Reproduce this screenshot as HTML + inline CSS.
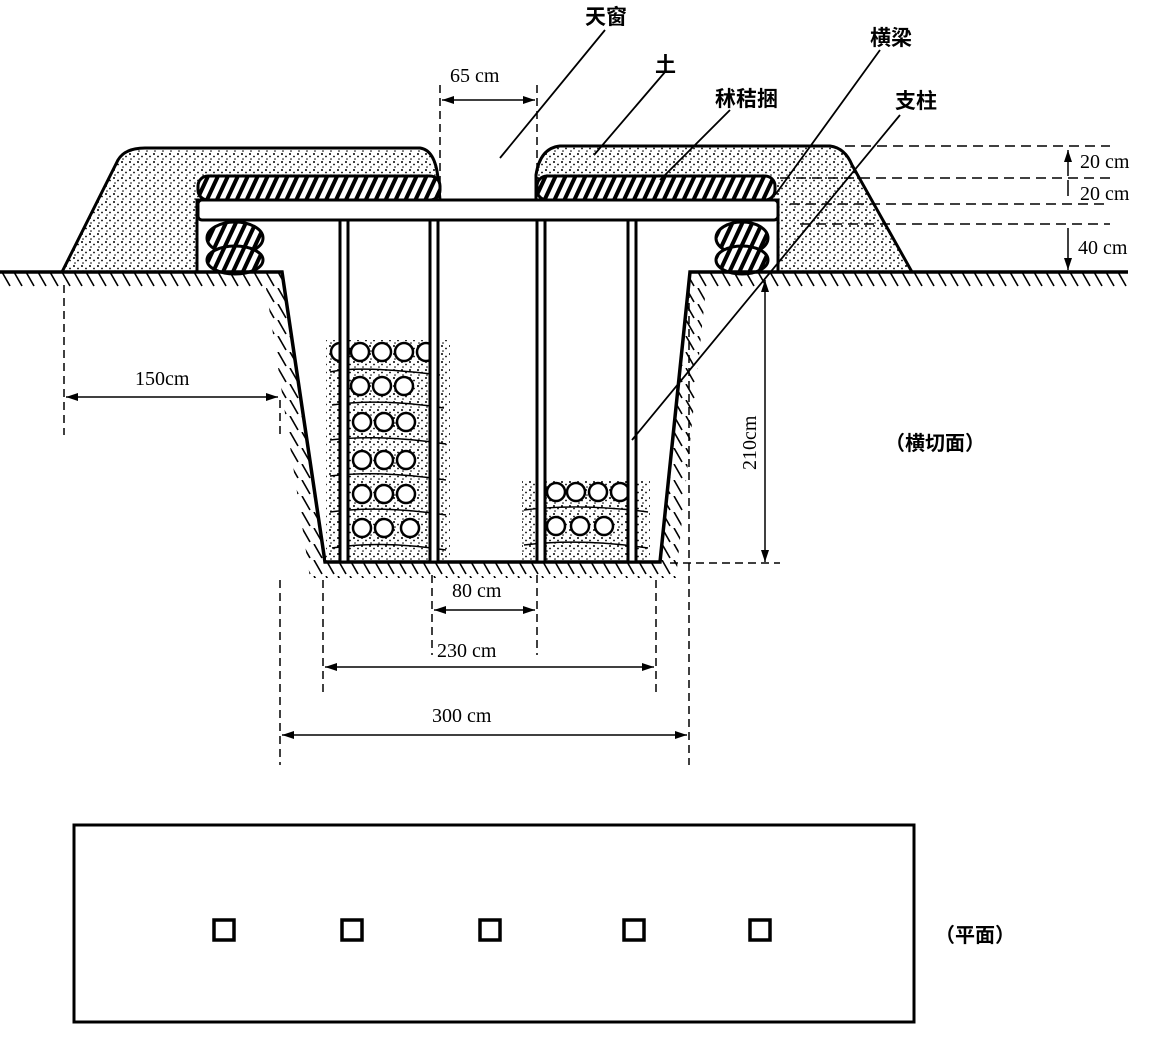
<!DOCTYPE html>
<html><head><meta charset="utf-8"><style>
html,body{margin:0;padding:0;background:#fff;}
svg{display:block}
text{font-family:"Liberation Serif","Noto Serif CJK SC",serif;fill:#000;}
.cj{font-family:"Liberation Sans","Noto Sans CJK SC",sans-serif;font-weight:bold;}
</style></head><body>
<svg width="1154" height="1040" viewBox="0 0 1154 1040" xmlns="http://www.w3.org/2000/svg">
<defs>
<pattern id="dots" width="8" height="8" patternUnits="userSpaceOnUse">
<rect width="8" height="8" fill="#fff"/>
<circle cx="2" cy="2" r="1" fill="#000"/><circle cx="6" cy="4.5" r="0.9" fill="#000"/><circle cx="3" cy="7" r="0.8" fill="#000"/>
</pattern>
<pattern id="hatch" width="9" height="9" patternUnits="userSpaceOnUse" patternTransform="rotate(25)">
<rect width="9" height="9" fill="#fff"/><rect x="0" width="4" height="9" fill="#000"/>
</pattern>
<pattern id="ground" width="12" height="16" patternUnits="userSpaceOnUse">
<path d="M2 0 L10 14" stroke="#000" stroke-width="1.6"/>
</pattern>
<marker id="ar" viewBox="0 0 12 8" refX="12" refY="4" markerWidth="12" markerHeight="8" orient="auto-start-reverse" markerUnits="userSpaceOnUse">
<path d="M0 0 L12 4 L0 8 Z" fill="#000"/></marker>
</defs>

<!-- mounds -->
<path d="M62 272 L118 160 Q125 148 145 148 L420 148 Q435 150 438 178 L440 200 L197 200 L197 272 Z" fill="url(#dots)" stroke="#000" stroke-width="3"/>
<path d="M536 200 L536 175 Q540 148 560 146 L830 146 Q845 148 852 165 L912 272 L778 272 L778 200 Z" fill="url(#dots)" stroke="#000" stroke-width="3"/>
<rect x="198" y="176" width="242" height="24" rx="10" fill="url(#hatch)" stroke="#000" stroke-width="3"/>
<rect x="537" y="176" width="238" height="24" rx="10" fill="url(#hatch)" stroke="#000" stroke-width="3"/>
<rect x="198" y="200" width="580" height="20" rx="4" fill="#fff" stroke="#000" stroke-width="3"/>
<ellipse cx="235" cy="238" rx="28" ry="16" fill="url(#hatch)" stroke="#000" stroke-width="3"/>
<ellipse cx="235" cy="260" rx="28" ry="14" fill="url(#hatch)" stroke="#000" stroke-width="3"/>
<ellipse cx="742" cy="238" rx="26" ry="16" fill="url(#hatch)" stroke="#000" stroke-width="3"/>
<ellipse cx="742" cy="260" rx="26" ry="14" fill="url(#hatch)" stroke="#000" stroke-width="3"/>

<!-- ground hatching -->
<path d="M0 272 L282 272 L325 562 L660 562 L690 272 L1128 272 L1128 288 L706 288 L676 578 L310 578 L266 288 L0 288 Z" fill="url(#ground)"/>
<path d="M0 272 L282 272 L325 562 L660 562 L690 272 L1128 272" fill="none" stroke="#000" stroke-width="3.5"/>

<!-- wood piles -->
<rect x="326" y="340" width="124" height="220" fill="url(#dots)"/>
<rect x="522" y="480" width="128" height="80" fill="url(#dots)"/>
<g fill="#fff" stroke="#000" stroke-width="2.5">
<circle cx="340" cy="352" r="9"/><circle cx="360" cy="352" r="9"/><circle cx="382" cy="352" r="9"/><circle cx="404" cy="352" r="9"/><circle cx="426" cy="352" r="9"/>
<circle cx="360" cy="386" r="9"/><circle cx="382" cy="386" r="9"/><circle cx="404" cy="386" r="9"/>
<circle cx="362" cy="422" r="9"/><circle cx="384" cy="422" r="9"/><circle cx="406" cy="422" r="9"/>
<circle cx="362" cy="460" r="9"/><circle cx="384" cy="460" r="9"/><circle cx="406" cy="460" r="9"/>
<circle cx="362" cy="494" r="9"/><circle cx="384" cy="494" r="9"/><circle cx="406" cy="494" r="9"/>
<circle cx="362" cy="528" r="9"/><circle cx="384" cy="528" r="9"/><circle cx="410" cy="528" r="9"/>
<circle cx="556" cy="492" r="9"/><circle cx="576" cy="492" r="9"/><circle cx="598" cy="492" r="9"/><circle cx="620" cy="492" r="9"/>
<circle cx="556" cy="526" r="9"/><circle cx="580" cy="526" r="9"/><circle cx="604" cy="526" r="9"/>
</g>
<g fill="none" stroke="#000" stroke-width="1.5">
<path d="M330 372 Q360 365 440 375 M332 405 Q380 398 444 408 M330 440 Q380 434 446 444 M330 476 Q380 470 446 480 M330 512 Q380 505 446 515 M332 548 Q380 540 446 550 M524 510 Q580 503 648 512 M524 545 Q580 538 648 548"/>
</g>
<g fill="#fff" stroke="#000" stroke-width="3">
<rect x="340" y="220" width="8" height="342"/><rect x="430" y="220" width="8" height="342"/>
<rect x="537" y="220" width="8" height="342"/><rect x="628" y="220" width="8" height="342"/>
</g>

<!-- dimension lines -->
<g stroke="#000" stroke-width="1.5" fill="none">
<path d="M440 85 V200 M537 85 V170" stroke-dasharray="8 5"/>
<path d="M442 100 H535" marker-start="url(#ar)" marker-end="url(#ar)"/>
<path d="M845 146 H1110 M780 178 H1110 M790 204 H1110 M800 224 H1110" stroke-dasharray="10 6"/>
<path d="M1068 150 V176 M1068 196 V180 M1068 228 V270" marker-start="url(#ar)" marker-end="url(#ar)"/>
<path d="M64 285 V435 M280 400 V435" stroke-dasharray="8 5"/>
<path d="M66 397 H278" marker-start="url(#ar)" marker-end="url(#ar)"/>
<path d="M765 280 V562" marker-start="url(#ar)" marker-end="url(#ar)"/>
<path d="M670 563 H780" stroke-dasharray="8 5"/>
<path d="M432 575 V655 M537 575 V655 M323 580 V695 M656 580 V695 M280 580 V765 M689 290 V765" stroke-dasharray="8 5"/>
<path d="M434 610 H535" marker-start="url(#ar)" marker-end="url(#ar)"/>
<path d="M325 667 H654" marker-start="url(#ar)" marker-end="url(#ar)"/>
<path d="M282 735 H687" marker-start="url(#ar)" marker-end="url(#ar)"/>
<path d="M500 158 L605 30 M594 155 L665 72 M660 180 L730 110 M775 195 L880 50 M632 440 L900 115" stroke-width="1.8"/>
</g>

<text class="cj" x="585" y="24" font-size="21">天窗</text>
<text class="cj" x="655" y="72" font-size="21">土</text>
<text class="cj" x="715" y="106" font-size="21">秫秸捆</text>
<text class="cj" x="870" y="45" font-size="21">横梁</text>
<text class="cj" x="895" y="108" font-size="21">支柱</text>
<text x="450" y="82" font-size="20">65 cm</text>
<text x="1080" y="168" font-size="20">20 cm</text>
<text x="1080" y="200" font-size="20">20 cm</text>
<text x="1078" y="254" font-size="20">40 cm</text>
<text x="135" y="385" font-size="20">150cm</text>
<text x="0" y="0" font-size="20" transform="translate(756 470) rotate(-90)">210cm</text>
<text class="cj" x="885" y="450" font-size="20">（横切面）</text>
<text x="452" y="597" font-size="20">80 cm</text>
<text x="437" y="657" font-size="20">230 cm</text>
<text x="432" y="722" font-size="20">300 cm</text>
<text class="cj" x="935" y="942" font-size="20">（平面）</text>

<rect x="74" y="825" width="840" height="197" fill="#fff" stroke="#000" stroke-width="3"/>
<g fill="#fff" stroke="#000" stroke-width="3.5">
<rect x="214" y="920" width="20" height="20"/><rect x="342" y="920" width="20" height="20"/>
<rect x="480" y="920" width="20" height="20"/><rect x="624" y="920" width="20" height="20"/>
<rect x="750" y="920" width="20" height="20"/>
</g>
</svg>
</body></html>
